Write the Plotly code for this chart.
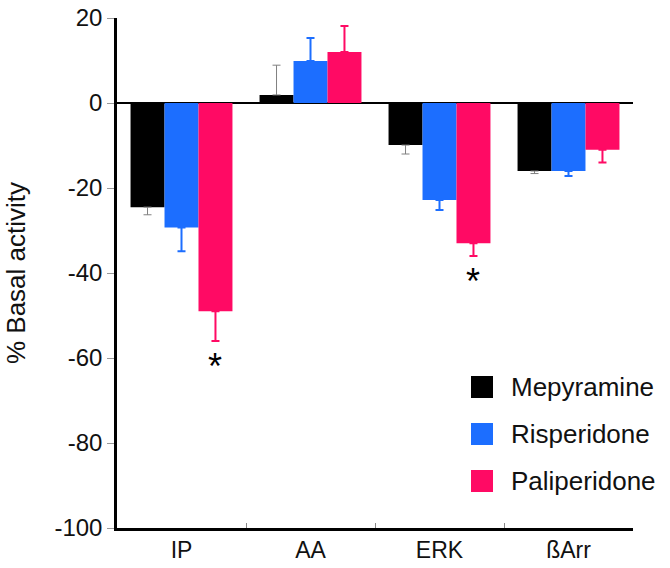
import plotly.graph_objects as go

categories = ["IP", "AA", "ERK", "ßArr"]
series_names = ["Mepyramine", "Risperidone", "Paliperidone"]
mepyramine = [-24.5, 1.9, -9.9, -16.0]
mepyramine_err = [1.8, 7.0, 2.1, 0.6]
risperidone = [-29.3, 9.9, -22.8, -16.0]
risperidone_err = [5.6, 5.4, 2.4, 1.2]
paliperidone = [-49.0, 12.0, -33.0, -11.0]
paliperidone_err = [7.0, 6.1, 3.0, 3.0]
significant = ["IP", "ERK"]
star_values = [-60.0, -40.0]
y_tickvals = [20, 0, -20, -40, -60, -80, -100]
y_ticktext = ["20", "0", "-20", "-40", "-60", "-80", "-100"]

colors = ["#000000", "#1C6EFF", "#FF0A64"]
err_colors = ["#808080", "#1C6EFF", "#FF0A64"]
err_thick = [1, 2, 2]
FONT = "Liberation Sans, Arial, Helvetica, sans-serif"

fig = go.Figure()
all_vals = [mepyramine, risperidone, paliperidone]
all_errs = [mepyramine_err, risperidone_err, paliperidone_err]
for name, vals, errs, c, ec, th in zip(series_names, all_vals, all_errs, colors, err_colors, err_thick):
    up = [e if v >= 0 else 0 for v, e in zip(vals, errs)]
    down = [e if v < 0 else 0 for v, e in zip(vals, errs)]
    fig.add_trace(go.Bar(
        x=categories, y=vals, name=name,
        marker=dict(color=c, line=dict(width=0)),
        error_y=dict(type="data", symmetric=False, array=up, arrayminus=down,
                     color=ec, thickness=th, width=4),
        showlegend=False,
    ))

# asterisks below paliperidone bars
bar_w = (1 - 0.21) / 3
for cat, yv in zip(significant, star_values):
    idx = categories.index(cat)
    fig.add_annotation(x=idx + bar_w, y=yv, xref="x", yref="y", text="*",
                       showarrow=False, font=dict(family=FONT, size=36, color="black"),
                       yanchor="middle", yshift=-8)

# manual legend
leg_y = [387, 434, 481]
for name, c, yy in zip(series_names, colors, leg_y):
    fig.add_shape(type="rect", xref="paper", yref="paper",
                  x0=(471 - 117) / 516, x1=(493 - 117) / 516,
                  y0=(528 - (yy + 11)) / 510, y1=(528 - (yy - 11)) / 510,
                  fillcolor=c, line=dict(width=0))
    fig.add_annotation(xref="paper", yref="paper", x=(509 - 117) / 516,
                       y=(528 - yy) / 510, text=name, showarrow=False,
                       xanchor="left", yanchor="middle",
                       font=dict(family=FONT, size=26, color="#111111"))

fig.update_layout(
    width=670, height=568,
    margin=dict(l=117, r=37, t=18, b=40),
    paper_bgcolor="white", plot_bgcolor="white",
    barmode="group", bargap=0.21, bargroupgap=0,
    font=dict(family=FONT, color="#111111"),
)
fig.update_xaxes(
    type="category", range=[-0.5, 3.5],
    showline=True, linecolor="black", linewidth=2.5,
    ticks="inside", tickson="boundaries", ticklen=5, tickcolor="#888888",
    tickfont=dict(family=FONT, size=23, color="#111111"),
    showgrid=False, zeroline=False, automargin=False,
)
fig.update_yaxes(
    range=[-100, 20], tickvals=y_tickvals, ticktext=y_ticktext,
    showline=True, linecolor="black", linewidth=2.5,
    ticks="outside", ticklen=7, tickcolor="#999999",
    tickfont=dict(family=FONT, size=24, color="#111111"),
    showgrid=False, zeroline=True, zerolinecolor="black", zerolinewidth=2,
    title=dict(text="% Basal activity", font=dict(family=FONT, size=26, color="#111111"), standoff=22),
    automargin=False,
)

fig.write_html("out.html", config={"displayModeBar": False},
               post_script="document.body.style.margin='0';document.body.style.overflow='hidden';")
